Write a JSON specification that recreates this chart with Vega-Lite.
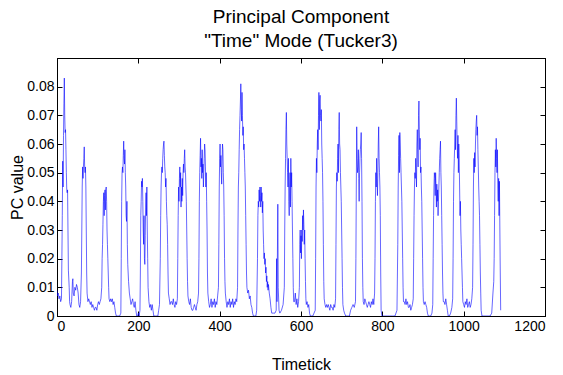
{
  "$schema": "https://vega.github.io/schema/vega-lite/v6.json",
  "width": 488,
  "height": 258,
  "autosize": {"type": "none"},
  "padding": {"left": 57, "top": 58, "right": 18, "bottom": 59},
  "background": "white",
  "config": {
    "view": {"stroke": "#000", "strokeWidth": 1},
    "font": "Liberation Sans",
    "axis": {"grid": false, "domainColor": "#000", "tickColor": "#000", "labelColor": "#000", "titleColor": "#000", "labelFont": "Liberation Sans", "titleFont": "Liberation Sans", "labelFontSize": 14, "titleFontSize": 16, "titleFontWeight": "normal", "tickSize": -5, "labelPadding": 8}
  },
  "title": {"text": ["Principal Component", "\"Time\" Mode (Tucker3)"], "fontSize": 19, "font": "Liberation Sans", "fontWeight": "normal", "anchor": "middle", "offset": 7, "lineHeight": 24, "color": "#000"},
  "data": {"values": [
    {"t":0,"v":0.009},{"t":1,"v":0.007},{"t":3,"v":0.008},{"t":5,"v":0.006},{"t":7,"v":0.007},{"t":9,"v":0.005},{"t":11,"v":0.006},{"t":12,"v":0.02},{"t":13,"v":0.035},
    {"t":14,"v":0.054},{"t":15,"v":0.045},{"t":16,"v":0.063},{"t":17,"v":0.074},{"t":18,"v":0.083},{"t":19,"v":0.07},{"t":20,"v":0.064},{"t":21,"v":0.065},{"t":22,"v":0.058},{"t":23,"v":0.05},{"t":24,"v":0.044},{"t":25,"v":0.043},{"t":26,"v":0.044},{"t":27,"v":0.03},{"t":28,"v":0.016},{"t":30,"v":0.01},{"t":31,"v":0.005},
    {"t":32,"v":0.004},{"t":34,"v":0.003},{"t":36,"v":0.005},{"t":38,"v":0.012},{"t":39,"v":0.013},{"t":40,"v":0.008},{"t":42,"v":0.007},{"t":44,"v":0.01},{"t":46,"v":0.009},{"t":48,"v":0.011},{"t":50,"v":0.01},{"t":52,"v":0.008},{"t":54,"v":0.004},{"t":56,"v":0.003},{"t":58,"v":0.005},
    {"t":60,"v":0.015},{"t":61,"v":0.03},{"t":62,"v":0.045},{"t":63,"v":0.052},{"t":64,"v":0.048},{"t":65,"v":0.052},{"t":66,"v":0.055},{"t":67,"v":0.059},{"t":68,"v":0.052},{"t":69,"v":0.05},{"t":70,"v":0.052},{"t":71,"v":0.045},{"t":72,"v":0.03},{"t":73,"v":0.015},{"t":74,"v":0.008},
    {"t":76,"v":0.005},{"t":78,"v":0.006},{"t":80,"v":0.005},{"t":82,"v":0.004},{"t":84,"v":0.005},{"t":86,"v":0.003},{"t":88,"v":0.004},{"t":90,"v":0.003},{"t":92,"v":0.002},{"t":94,"v":0.003},{"t":96,"v":0.003},{"t":98,"v":0.002},{"t":100,"v":0.004},{"t":102,"v":0.005},{"t":104,"v":0.004},{"t":106,"v":0.005},{"t":108,"v":0.006},{"t":110,"v":0.01},
    {"t":111,"v":0.02},{"t":112,"v":0.025},{"t":113,"v":0.032},{"t":114,"v":0.04},{"t":115,"v":0.043},{"t":116,"v":0.035},{"t":117,"v":0.042},{"t":118,"v":0.044},{"t":119,"v":0.037},{"t":120,"v":0.044},{"t":121,"v":0.045},{"t":122,"v":0.04},{"t":123,"v":0.03},{"t":124,"v":0.025},{"t":125,"v":0.02},{"t":126,"v":0.015},{"t":127,"v":0.01},{"t":128,"v":0.006},
    {"t":130,"v":0.005},{"t":132,"v":0.006},{"t":134,"v":0.005},{"t":136,"v":0.006},{"t":138,"v":0.004},{"t":140,"v":0.005},{"t":142,"v":0.003},{"t":144,"v":0.001},{"t":146,"v":0},{"t":150,"v":0},{"t":154,"v":0},{"t":157,"v":0.001},
    {"t":158,"v":0.02},{"t":159,"v":0.04},{"t":160,"v":0.05},{"t":161,"v":0.052},{"t":162,"v":0.05},{"t":163,"v":0.056},{"t":164,"v":0.061},{"t":165,"v":0.055},{"t":166,"v":0.053},{"t":167,"v":0.058},{"t":168,"v":0.05},{"t":169,"v":0.045},{"t":170,"v":0.035},{"t":171,"v":0.033},{"t":172,"v":0.04},{"t":173,"v":0.025},{"t":174,"v":0.018},{"t":176,"v":0.012},{"t":178,"v":0.008},
    {"t":180,"v":0.006},{"t":182,"v":0.004},{"t":184,"v":0.005},{"t":186,"v":0.006},{"t":188,"v":0.004},{"t":190,"v":0.003},{"t":192,"v":0.005},{"t":194,"v":0.002},{"t":196,"v":0},{"t":198,"v":0},{"t":200,"v":0.001},{"t":202,"v":0},{"t":204,"v":0.002},
    {"t":205,"v":0.015},{"t":206,"v":0.035},{"t":207,"v":0.04},{"t":208,"v":0.047},{"t":209,"v":0.045},{"t":210,"v":0.048},{"t":211,"v":0.04},{"t":212,"v":0.03},{"t":213,"v":0.025},{"t":214,"v":0.035},{"t":215,"v":0.02},{"t":216,"v":0.018},{"t":217,"v":0.028},{"t":218,"v":0.038},{"t":219,"v":0.043},{"t":220,"v":0.035},{"t":221,"v":0.045},{"t":222,"v":0.03},{"t":223,"v":0.02},{"t":224,"v":0.01},{"t":226,"v":0.005},
    {"t":228,"v":0.003},{"t":230,"v":0.004},{"t":232,"v":0.002},{"t":234,"v":0.004},{"t":236,"v":0.002},{"t":238,"v":0},{"t":242,"v":0},{"t":246,"v":0},{"t":248,"v":0},{"t":250,"v":0.002},{"t":252,"v":0.004},
    {"t":254,"v":0.02},{"t":255,"v":0.035},{"t":256,"v":0.045},{"t":257,"v":0.05},{"t":258,"v":0.052},{"t":259,"v":0.05},{"t":260,"v":0.055},{"t":261,"v":0.058},{"t":262,"v":0.06},{"t":263,"v":0.061},{"t":264,"v":0.056},{"t":265,"v":0.052},{"t":266,"v":0.05},{"t":267,"v":0.045},{"t":268,"v":0.048},{"t":269,"v":0.04},{"t":270,"v":0.035},{"t":271,"v":0.032},{"t":272,"v":0.025},{"t":273,"v":0.015},{"t":274,"v":0.008},{"t":276,"v":0.006},
    {"t":278,"v":0.004},{"t":280,"v":0.005},{"t":282,"v":0.005},{"t":284,"v":0.004},{"t":286,"v":0.006},{"t":288,"v":0.004},{"t":290,"v":0.003},{"t":292,"v":0.005},{"t":294,"v":0.004},{"t":296,"v":0.006},
    {"t":297,"v":0.02},{"t":298,"v":0.035},{"t":299,"v":0.045},{"t":300,"v":0.04},{"t":301,"v":0.048},{"t":302,"v":0.052},{"t":303,"v":0.045},{"t":304,"v":0.05},{"t":305,"v":0.038},{"t":306,"v":0.045},{"t":307,"v":0.04},{"t":308,"v":0.048},{"t":309,"v":0.042},{"t":310,"v":0.05},{"t":311,"v":0.053},{"t":312,"v":0.05},{"t":313,"v":0.055},{"t":314,"v":0.058},{"t":315,"v":0.052},{"t":316,"v":0.05},{"t":317,"v":0.045},{"t":318,"v":0.04},{"t":319,"v":0.03},{"t":320,"v":0.02},{"t":321,"v":0.012},{"t":322,"v":0.007},{"t":324,"v":0.005},
    {"t":326,"v":0.004},{"t":328,"v":0.006},{"t":330,"v":0.003},{"t":332,"v":0.002},{"t":334,"v":0.002},{"t":336,"v":0.003},{"t":338,"v":0.004},{"t":340,"v":0.003},{"t":342,"v":0.002},{"t":344,"v":0.004},{"t":346,"v":0.005},{"t":348,"v":0.008},
    {"t":349,"v":0.02},{"t":350,"v":0.04},{"t":351,"v":0.05},{"t":352,"v":0.056},{"t":353,"v":0.062},{"t":354,"v":0.052},{"t":355,"v":0.055},{"t":356,"v":0.048},{"t":357,"v":0.058},{"t":358,"v":0.05},{"t":359,"v":0.053},{"t":360,"v":0.045},{"t":361,"v":0.05},{"t":362,"v":0.055},{"t":363,"v":0.06},{"t":364,"v":0.058},{"t":365,"v":0.052},{"t":366,"v":0.045},{"t":367,"v":0.05},{"t":368,"v":0.04},{"t":369,"v":0.03},{"t":370,"v":0.015},{"t":371,"v":0.008},
    {"t":373,"v":0.005},{"t":375,"v":0.003},{"t":377,"v":0.004},{"t":379,"v":0.006},{"t":381,"v":0.003},{"t":383,"v":0.005},{"t":385,"v":0.004},{"t":387,"v":0.006},{"t":389,"v":0.003},{"t":391,"v":0.005},{"t":393,"v":0.004},{"t":395,"v":0.007},{"t":397,"v":0.01},
    {"t":398,"v":0.025},{"t":399,"v":0.045},{"t":400,"v":0.055},{"t":401,"v":0.06},{"t":402,"v":0.052},{"t":403,"v":0.056},{"t":404,"v":0.05},{"t":405,"v":0.046},{"t":406,"v":0.054},{"t":407,"v":0.06},{"t":408,"v":0.058},{"t":409,"v":0.05},{"t":410,"v":0.045},{"t":411,"v":0.035},{"t":412,"v":0.02},{"t":413,"v":0.012},{"t":414,"v":0.008},
    {"t":416,"v":0.005},{"t":418,"v":0.003},{"t":420,"v":0.005},{"t":422,"v":0.004},{"t":424,"v":0.006},{"t":426,"v":0.003},{"t":428,"v":0.005},{"t":430,"v":0.004},{"t":432,"v":0.006},{"t":434,"v":0.003},{"t":436,"v":0.005},{"t":438,"v":0.004},{"t":440,"v":0.006},{"t":442,"v":0.005},{"t":444,"v":0.01},
    {"t":445,"v":0.03},{"t":446,"v":0.045},{"t":447,"v":0.05},{"t":448,"v":0.058},{"t":449,"v":0.065},{"t":450,"v":0.07},{"t":451,"v":0.075},{"t":452,"v":0.081},{"t":453,"v":0.072},{"t":454,"v":0.068},{"t":455,"v":0.078},{"t":456,"v":0.07},{"t":457,"v":0.063},{"t":458,"v":0.066},{"t":459,"v":0.058},{"t":460,"v":0.06},{"t":461,"v":0.055},{"t":462,"v":0.05},{"t":463,"v":0.045},{"t":464,"v":0.035},{"t":465,"v":0.025},{"t":466,"v":0.015},{"t":467,"v":0.01},
    {"t":469,"v":0.008},{"t":471,"v":0.009},{"t":473,"v":0.006},{"t":475,"v":0.007},{"t":477,"v":0.004},{"t":479,"v":0.003},{"t":481,"v":0.001},{"t":483,"v":0},{"t":486,"v":0},{"t":489,"v":0},{"t":491,"v":0.002},
    {"t":493,"v":0.02},{"t":494,"v":0.035},{"t":495,"v":0.04},{"t":496,"v":0.038},{"t":497,"v":0.044},{"t":498,"v":0.04},{"t":499,"v":0.045},{"t":500,"v":0.042},{"t":501,"v":0.038},{"t":502,"v":0.045},{"t":503,"v":0.04},{"t":504,"v":0.043},{"t":505,"v":0.036},{"t":506,"v":0.04},{"t":507,"v":0.03},{"t":508,"v":0.025},{"t":509,"v":0.02},{"t":510,"v":0.022},{"t":511,"v":0.018},{"t":512,"v":0.02},{"t":513,"v":0.015},{"t":514,"v":0.017},{"t":515,"v":0.012},{"t":516,"v":0.014},{"t":517,"v":0.01},{"t":518,"v":0.012},{"t":519,"v":0.009},{"t":520,"v":0.011},{"t":522,"v":0.008},{"t":524,"v":0.006},{"t":526,"v":0.003},{"t":528,"v":0.001},{"t":532,"v":0.001},{"t":536,"v":0.001},{"t":539,"v":0.002},{"t":540,"v":0.02},{"t":541,"v":0.005},{"t":543,"v":0.039},{"t":544,"v":0.01},{"t":546,"v":0.002},{"t":548,"v":0.001},{"t":552,"v":0.002},{"t":556,"v":0.004},{"t":559,"v":0.01},
    {"t":560,"v":0.03},{"t":561,"v":0.045},{"t":562,"v":0.055},{"t":563,"v":0.065},{"t":564,"v":0.071},{"t":565,"v":0.06},{"t":566,"v":0.055},{"t":567,"v":0.05},{"t":568,"v":0.045},{"t":569,"v":0.055},{"t":570,"v":0.04},{"t":571,"v":0.035},{"t":572,"v":0.045},{"t":573,"v":0.05},{"t":574,"v":0.038},{"t":575,"v":0.055},{"t":576,"v":0.045},{"t":577,"v":0.05},{"t":578,"v":0.04},{"t":579,"v":0.03},{"t":580,"v":0.02},{"t":581,"v":0.01},{"t":582,"v":0.005},
    {"t":584,"v":0.005},{"t":586,"v":0.008},{"t":588,"v":0.004},{"t":590,"v":0.006},{"t":592,"v":0.003},{"t":594,"v":0.005},{"t":596,"v":0.01},
    {"t":597,"v":0.025},{"t":598,"v":0.03},{"t":599,"v":0.022},{"t":600,"v":0.028},{"t":601,"v":0.02},{"t":602,"v":0.03},{"t":603,"v":0.026},{"t":604,"v":0.035},{"t":605,"v":0.03},{"t":606,"v":0.037},{"t":607,"v":0.032},{"t":608,"v":0.025},{"t":609,"v":0.03},{"t":610,"v":0.02},{"t":611,"v":0.012},{"t":612,"v":0.006},{"t":613,"v":0.004},
    {"t":615,"v":0.005},{"t":617,"v":0.003},{"t":619,"v":0.004},{"t":621,"v":0.001},{"t":623,"v":0},{"t":626,"v":0},{"t":629,"v":0},{"t":632,"v":0.001},{"t":635,"v":0.002},
    {"t":636,"v":0.02},{"t":637,"v":0.045},{"t":638,"v":0.055},{"t":639,"v":0.05},{"t":640,"v":0.06},{"t":641,"v":0.065},{"t":642,"v":0.058},{"t":643,"v":0.07},{"t":644,"v":0.078},{"t":645,"v":0.065},{"t":646,"v":0.075},{"t":647,"v":0.077},{"t":648,"v":0.07},{"t":649,"v":0.068},{"t":650,"v":0.072},{"t":651,"v":0.06},{"t":652,"v":0.055},{"t":653,"v":0.05},{"t":654,"v":0.04},{"t":655,"v":0.025},{"t":656,"v":0.012},{"t":657,"v":0.006},
    {"t":659,"v":0.004},{"t":661,"v":0.003},{"t":663,"v":0.004},{"t":665,"v":0.003},{"t":667,"v":0.004},{"t":669,"v":0.003},{"t":671,"v":0.002},{"t":673,"v":0.004},{"t":675,"v":0.003},{"t":677,"v":0.003},{"t":679,"v":0.002},{"t":681,"v":0.004},{"t":683,"v":0.003},{"t":685,"v":0.006},
    {"t":686,"v":0.025},{"t":687,"v":0.045},{"t":688,"v":0.05},{"t":689,"v":0.047},{"t":690,"v":0.055},{"t":691,"v":0.06},{"t":692,"v":0.05},{"t":693,"v":0.065},{"t":694,"v":0.071},{"t":695,"v":0.06},{"t":696,"v":0.058},{"t":697,"v":0.05},{"t":698,"v":0.045},{"t":699,"v":0.04},{"t":700,"v":0.03},{"t":701,"v":0.02},{"t":702,"v":0.01},{"t":703,"v":0.004},
    {"t":705,"v":0.002},{"t":707,"v":0.001},{"t":710,"v":0},{"t":713,"v":0},{"t":716,"v":0},{"t":719,"v":0},{"t":722,"v":0.002},{"t":725,"v":0.003},{"t":728,"v":0.004},{"t":731,"v":0.003},{"t":734,"v":0.005},
    {"t":735,"v":0.02},{"t":736,"v":0.045},{"t":737,"v":0.066},{"t":738,"v":0.055},{"t":739,"v":0.05},{"t":740,"v":0.052},{"t":741,"v":0.058},{"t":742,"v":0.048},{"t":743,"v":0.04},{"t":744,"v":0.05},{"t":745,"v":0.055},{"t":746,"v":0.058},{"t":747,"v":0.06},{"t":748,"v":0.064},{"t":749,"v":0.055},{"t":750,"v":0.04},{"t":751,"v":0.02},{"t":752,"v":0.01},{"t":753,"v":0.005},
    {"t":755,"v":0.004},{"t":757,"v":0.006},{"t":759,"v":0.005},{"t":761,"v":0.004},{"t":763,"v":0.003},{"t":765,"v":0.004},{"t":767,"v":0.005},{"t":769,"v":0.004},{"t":771,"v":0.003},{"t":773,"v":0.005},{"t":775,"v":0.004},{"t":777,"v":0.006},{"t":779,"v":0.004},{"t":781,"v":0.008},
    {"t":782,"v":0.02},{"t":783,"v":0.04},{"t":784,"v":0.05},{"t":785,"v":0.045},{"t":786,"v":0.055},{"t":787,"v":0.048},{"t":788,"v":0.042},{"t":789,"v":0.05},{"t":790,"v":0.06},{"t":791,"v":0.066},{"t":792,"v":0.055},{"t":793,"v":0.05},{"t":794,"v":0.045},{"t":795,"v":0.035},{"t":796,"v":0.015},{"t":797,"v":0.002},
    {"t":799,"v":0},{"t":805,"v":0},{"t":812,"v":0},{"t":818,"v":0},{"t":825,"v":0},{"t":831,"v":0},{"t":836,"v":0.002},
    {"t":838,"v":0.025},{"t":839,"v":0.045},{"t":840,"v":0.056},{"t":841,"v":0.063},{"t":842,"v":0.05},{"t":843,"v":0.064},{"t":844,"v":0.06},{"t":845,"v":0.055},{"t":846,"v":0.05},{"t":847,"v":0.045},{"t":848,"v":0.04},{"t":849,"v":0.03},{"t":850,"v":0.02},{"t":851,"v":0.01},{"t":852,"v":0.005},
    {"t":854,"v":0.005},{"t":856,"v":0.004},{"t":858,"v":0.006},{"t":860,"v":0.004},{"t":862,"v":0.005},{"t":864,"v":0.003},{"t":866,"v":0.003},{"t":868,"v":0.004},{"t":870,"v":0.002},{"t":872,"v":0.003},{"t":874,"v":0.004},{"t":876,"v":0.006},
    {"t":877,"v":0.02},{"t":878,"v":0.035},{"t":879,"v":0.045},{"t":880,"v":0.05},{"t":881,"v":0.048},{"t":882,"v":0.055},{"t":883,"v":0.05},{"t":884,"v":0.045},{"t":885,"v":0.06},{"t":886,"v":0.065},{"t":887,"v":0.058},{"t":888,"v":0.052},{"t":889,"v":0.07},{"t":890,"v":0.075},{"t":891,"v":0.065},{"t":892,"v":0.058},{"t":893,"v":0.062},{"t":894,"v":0.05},{"t":895,"v":0.052},{"t":896,"v":0.045},{"t":897,"v":0.04},{"t":898,"v":0.03},{"t":899,"v":0.02},{"t":900,"v":0.01},{"t":901,"v":0.005},
    {"t":903,"v":0.004},{"t":905,"v":0.005},{"t":907,"v":0.004},{"t":909,"v":0.003},{"t":911,"v":0.001},{"t":913,"v":0},{"t":916,"v":0},{"t":919,"v":0},{"t":922,"v":0.001},{"t":924,"v":0.004},
    {"t":925,"v":0.02},{"t":926,"v":0.035},{"t":927,"v":0.045},{"t":928,"v":0.05},{"t":929,"v":0.048},{"t":930,"v":0.042},{"t":931,"v":0.05},{"t":932,"v":0.045},{"t":933,"v":0.038},{"t":934,"v":0.046},{"t":935,"v":0.04},{"t":936,"v":0.044},{"t":937,"v":0.035},{"t":938,"v":0.04},{"t":939,"v":0.045},{"t":940,"v":0.05},{"t":941,"v":0.055},{"t":942,"v":0.058},{"t":943,"v":0.061},{"t":944,"v":0.05},{"t":945,"v":0.045},{"t":946,"v":0.035},{"t":947,"v":0.025},{"t":948,"v":0.015},{"t":949,"v":0.008},{"t":950,"v":0.005},
    {"t":952,"v":0.005},{"t":954,"v":0.004},{"t":956,"v":0.006},{"t":958,"v":0.004},{"t":960,"v":0.002},{"t":962,"v":0},{"t":965,"v":0},{"t":968,"v":0.001},{"t":971,"v":0.003},{"t":973,"v":0.006},
    {"t":974,"v":0.02},{"t":975,"v":0.04},{"t":976,"v":0.05},{"t":977,"v":0.055},{"t":978,"v":0.06},{"t":979,"v":0.065},{"t":980,"v":0.058},{"t":981,"v":0.07},{"t":982,"v":0.076},{"t":983,"v":0.068},{"t":984,"v":0.06},{"t":985,"v":0.055},{"t":986,"v":0.063},{"t":987,"v":0.05},{"t":988,"v":0.06},{"t":989,"v":0.055},{"t":990,"v":0.045},{"t":991,"v":0.035},{"t":992,"v":0.04},{"t":993,"v":0.03},{"t":994,"v":0.025},{"t":995,"v":0.02},{"t":996,"v":0.015},{"t":997,"v":0.01},{"t":998,"v":0.005},
    {"t":1000,"v":0.004},{"t":1002,"v":0.003},{"t":1004,"v":0.005},{"t":1006,"v":0.004},{"t":1008,"v":0.006},{"t":1010,"v":0.003},{"t":1012,"v":0.004},{"t":1014,"v":0.005},{"t":1016,"v":0.003},{"t":1018,"v":0.004},{"t":1020,"v":0.006},{"t":1022,"v":0.01},
    {"t":1023,"v":0.025},{"t":1024,"v":0.045},{"t":1025,"v":0.055},{"t":1026,"v":0.05},{"t":1027,"v":0.057},{"t":1028,"v":0.052},{"t":1029,"v":0.06},{"t":1030,"v":0.065},{"t":1031,"v":0.068},{"t":1032,"v":0.07},{"t":1033,"v":0.063},{"t":1034,"v":0.066},{"t":1035,"v":0.058},{"t":1036,"v":0.052},{"t":1037,"v":0.045},{"t":1038,"v":0.04},{"t":1039,"v":0.035},{"t":1040,"v":0.025},{"t":1041,"v":0.015},{"t":1042,"v":0.008},{"t":1043,"v":0.002},
    {"t":1045,"v":0},{"t":1050,"v":0},{"t":1055,"v":0},{"t":1060,"v":0},{"t":1065,"v":0},{"t":1069,"v":0.001},{"t":1072,"v":0.008},{"t":1074,"v":0.012},{"t":1075,"v":0.02},
    {"t":1076,"v":0.035},{"t":1077,"v":0.05},{"t":1078,"v":0.058},{"t":1079,"v":0.052},{"t":1080,"v":0.062},{"t":1081,"v":0.055},{"t":1082,"v":0.05},{"t":1083,"v":0.058},{"t":1084,"v":0.045},{"t":1085,"v":0.04},{"t":1086,"v":0.048},{"t":1087,"v":0.035},{"t":1088,"v":0.047},{"t":1089,"v":0.03},{"t":1090,"v":0.015},{"t":1091,"v":0.002}
  ]},
  "layer": [
    {
      "mark": {"type": "line", "color": "#0000ff", "strokeWidth": 0.6, "clip": true},
      "encoding": {
        "x": {"field": "t", "type": "quantitative", "scale": {"domain": [0, 1200], "nice": false, "zero": false}, "axis": {"orient": "bottom", "values": [0, 200, 400, 600, 800, 1000, 1200], "title": "Timetick", "titlePadding": 23, "format": "d"}},
        "y": {"field": "v", "type": "quantitative", "scale": {"domain": [0, 0.09], "nice": false}, "axis": {"orient": "left", "values": [0, 0.01, 0.02, 0.03, 0.04, 0.05, 0.06, 0.07, 0.08], "title": "PC value", "format": ".2~f", "titlePadding": 1}}
      }
    },
    {
      "mark": {"type": "line", "opacity": 0},
      "encoding": {
        "x": {"field": "t", "type": "quantitative", "scale": {"domain": [0, 1200], "nice": false, "zero": false}, "axis": {"orient": "top", "values": [0, 200, 400, 600, 800, 1000, 1200], "labels": false, "title": null}},
        "y": {"field": "v", "type": "quantitative", "scale": {"domain": [0, 0.09], "nice": false}, "axis": {"orient": "right", "values": [0, 0.01, 0.02, 0.03, 0.04, 0.05, 0.06, 0.07, 0.08], "labels": false, "title": null}}
      }
    }
  ],
  "resolve": {"axis": {"x": "independent", "y": "independent"}}
}
